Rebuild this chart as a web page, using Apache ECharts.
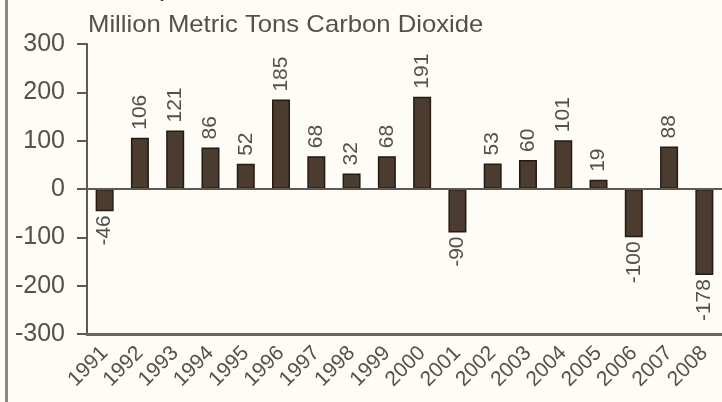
<!DOCTYPE html>
<html>
<head>
<meta charset="utf-8">
<script src="https://cdn.jsdelivr.net/npm/echarts@6/dist/echarts.min.js"></script>
<style>
  html, body { margin: 0; padding: 0; background: #fdfcf6; }
  #chart { width: 722px; height: 402px; }
</style>
</head>
<body>
<div id="chart"></div>
<script>
// Annual change in emissions, million metric tons CO2
const years = ['1991','1992','1993','1994','1995','1996','1997','1998','1999',
               '2000','2001','2002','2003','2004','2005','2006','2007','2008'];
const changes = [-46, 106, 121, 86, 52, 185, 68, 32, 68,
                 191, -90, 53, 60, 101, 19, -100, 88, -178];
const yTicks = { min: -300, max: 300, step: 100 };

const unitsTitle = 'Million Metric Tons Carbon Dioxide';
const mainTitle = 'Emissions, 1991-2008';

const textColor = '#54504b';
const axisColor = '#5f5952';
const font = 'Liberation Sans, Arial, Helvetica, sans-serif';

const chart = echarts.init(document.getElementById('chart'), null, { renderer: 'canvas' });

// Positive bars carry their label above, negative ones below
const barData = changes.map(v => ({
  value: v,
  label: v >= 0
    ? { position: 'top', align: 'left', distance: 8 }
    : { position: 'bottom', align: 'right', distance: 4 }
}));

chart.setOption({
  backgroundColor: '#fdfcf6',
  animation: false,
  graphic: [
    { type: 'rect', left: 5, top: 0, shape: { width: 3, height: 402 },
      style: { fill: '#8c8781' } },
    { type: 'text', x: 18, y: -23, scaleX: 1.08,
      style: { text: mainTitle, fill: '#3a3632',
               font: 'bold 26px ' + font } },
    { type: 'text', x: 88, y: 13, scaleX: 1.07,
      style: { text: unitsTitle, fill: textColor,
               font: '24px ' + font } }
  ],
  grid: { left: 87, right: -8, top: 44, bottom: 68, containLabel: false },
  xAxis: {
    type: 'category',
    data: years,
    axisLine: { onZero: false, lineStyle: { color: '#6a645d', width: 3 } },
    axisTick: { show: false },
    axisLabel: {
      rotate: 45, interval: 0, margin: 16,
      color: textColor, fontSize: 21, fontFamily: font
    },
    splitLine: { show: false }
  },
  yAxis: {
    type: 'value',
    min: yTicks.min, max: yTicks.max, interval: yTicks.step,
    axisLine: { show: true, lineStyle: { color: axisColor, width: 2 } },
    axisTick: { show: true, length: 10, lineStyle: { color: axisColor, width: 2 } },
    axisLabel: {
      margin: 22, color: textColor, fontSize: 25, fontFamily: font
    },
    splitLine: { show: false }
  },
  series: [{
    type: 'bar',
    data: barData,
    barWidth: 18,
    itemStyle: { color: '#4b3c2f', borderColor: '#231a13', borderWidth: 1.5 },
    label: {
      show: true,
      rotate: 90,
      verticalAlign: 'middle',
      color: textColor,
      fontSize: 21,
      fontFamily: font
    },
    markLine: {
      silent: true,
      symbol: 'none',
      label: { show: false },
      lineStyle: { color: axisColor, width: 2, type: 'solid' },
      data: [{ yAxis: 0 }]
    },
    z: 3
  }]
});
</script>
</body>
</html>
